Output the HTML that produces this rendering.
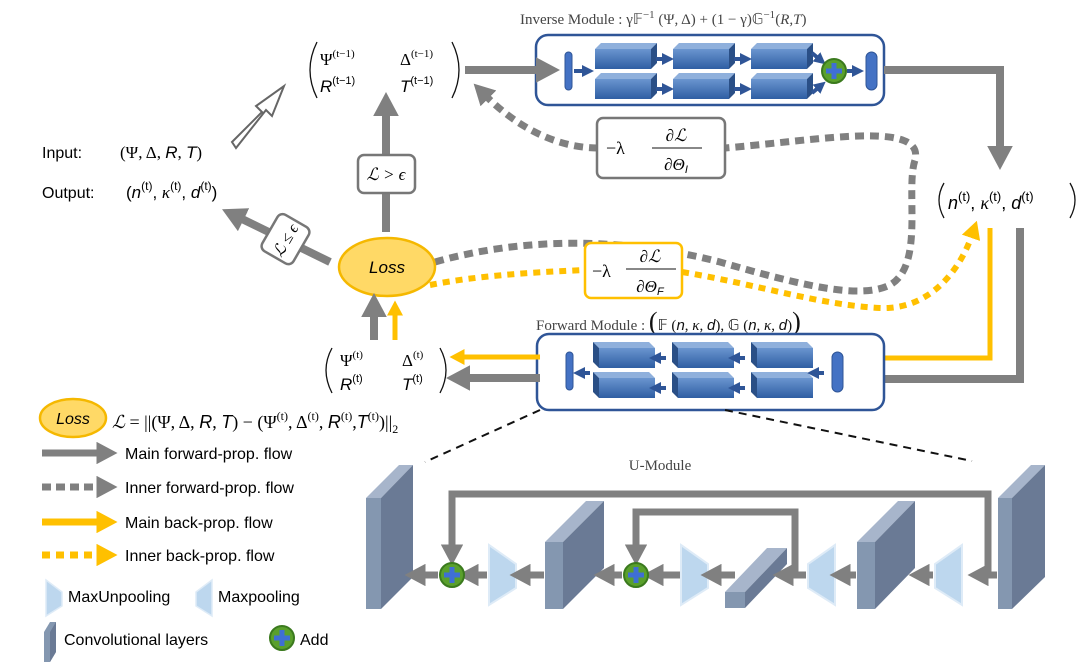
<!DOCTYPE html>
<html><head><meta charset="utf-8"><style>
body{margin:0;background:#fff}
svg{display:block}
text{font-family:"Liberation Sans",sans-serif;}
.s{font-family:"Liberation Serif",serif;}
</style></head><body>
<svg width="1089" height="665" viewBox="0 0 1089 665" xmlns="http://www.w3.org/2000/svg">
<defs>
<marker id="ag" markerWidth="3" markerHeight="3.2" refX="0.5" refY="1.6" orient="auto" markerUnits="strokeWidth"><path d="M0,0 L3,1.6 L0,3.2z" fill="#808080"/></marker>
<marker id="ay" markerWidth="3" markerHeight="3.2" refX="0.5" refY="1.6" orient="auto" markerUnits="strokeWidth"><path d="M0,0 L3,1.6 L0,3.2z" fill="#ffc000"/></marker>
<marker id="ab" markerWidth="3" markerHeight="3" refX="0.5" refY="1.5" orient="auto" markerUnits="strokeWidth"><path d="M0,0 L3,1.5 L0,3z" fill="#2f5597"/></marker>
<linearGradient id="bl" x1="0" y1="0" x2="0" y2="1"><stop offset="0" stop-color="#6a95cf"/><stop offset="1" stop-color="#2e5ea3"/></linearGradient>
<g id="blk"><path d="M0,6 L6,0 L62,0 L56,6z" fill="#8fb0dc"/><path d="M56,6 L62,0 L62,20 L56,26z" fill="#2a4f86"/><rect x="0" y="6" width="56" height="20" fill="url(#bl)"/></g>
<g id="blkL"><path d="M6,6 L0,0 L56,0 L62,6z" fill="#8fb0dc"/><path d="M0,0 L6,6 L6,26 L0,20z" fill="#2a4f86"/><rect x="6" y="6" width="56" height="20" fill="url(#bl)"/></g>
<g id="plus"><circle r="12" fill="#5aa02c" stroke="#3b7a1e" stroke-width="2"/><rect x="-2.5" y="-8" width="5" height="16" fill="#3f6fd4"/><rect x="-8" y="-2.5" width="16" height="5" fill="#3f6fd4"/></g>
</defs>

<!-- Inverse module -->
<text x="520" y="24" class="s" font-size="15" fill="#444">Inverse Module : γ𝔽<tspan dy="-6" font-size="11">−1</tspan><tspan dy="6"> (Ψ, Δ) + (1 − γ)𝔾</tspan><tspan dy="-6" font-size="11">−1</tspan><tspan dy="6">(</tspan><tspan font-style="italic">R,T</tspan>)</text>
<rect x="536" y="35" width="348" height="70" rx="12" fill="#fff" stroke="#2f5597" stroke-width="2.5"/>
<line x1="465" y1="70" x2="540" y2="70" stroke="#808080" stroke-width="8" marker-end="url(#ag)"/>
<rect x="565" y="52" width="7" height="38" rx="3.5" fill="#4472c4" stroke="#2f5597"/>
<line x1="574" y1="71" x2="584" y2="71" stroke="#2f5597" stroke-width="4" marker-end="url(#ab)"/>
<use href="#blk" x="595" y="43"/><use href="#blk" x="595" y="73"/>
<use href="#blk" x="673" y="43"/><use href="#blk" x="673" y="73"/>
<use href="#blk" x="751" y="43"/><use href="#blk" x="751" y="73"/>
<g stroke="#2f5597" stroke-width="4"><line x1="656" y1="59" x2="664" y2="59" marker-end="url(#ab)"/><line x1="656" y1="89" x2="664" y2="89" marker-end="url(#ab)"/><line x1="734" y1="59" x2="742" y2="59" marker-end="url(#ab)"/><line x1="734" y1="89" x2="742" y2="89" marker-end="url(#ab)"/><line x1="812" y1="53" x2="818" y2="58" marker-end="url(#ab)"/><line x1="812" y1="93" x2="818" y2="88" marker-end="url(#ab)"/><line x1="847" y1="71" x2="854" y2="71" marker-end="url(#ab)"/></g>
<use href="#plus" x="834" y="71"/>
<rect x="866" y="52" width="11" height="38" rx="5.5" fill="#4472c4" stroke="#2f5597"/>
<polyline points="884,70 1000,70 1000,150" fill="none" stroke="#808080" stroke-width="8" marker-end="url(#ag)"/>

<!-- top-left matrix -->
<text x="320" y="65" class="s" font-size="17">Ψ<tspan dy="-8" font-size="11">(t−1)</tspan></text>
<text x="400" y="65" class="s" font-size="17">Δ<tspan dy="-8" font-size="11">(t−1)</tspan></text>
<text x="320" y="92" font-size="17" font-style="italic">R<tspan dy="-8" font-size="11" font-style="normal">(t−1)</tspan></text>
<text x="400" y="92" font-size="17" font-style="italic">T<tspan dy="-8" font-size="11" font-style="normal">(t−1)</tspan></text>
<path d="M317,42 Q303,70 317,98" fill="none" stroke="#111" stroke-width="1.3"/>
<path d="M452,42 Q466,70 452,98" fill="none" stroke="#111" stroke-width="1.3"/>

<!-- hollow arrow -->
<path d="M232,142 L262,112 L256,106 L284,86 L272,116 L266,110 L236,148z" fill="#fff" stroke="#666" stroke-width="2"/>

<text x="42" y="158" font-size="16">Input:</text>
<text x="120" y="158" class="s" font-size="17">(Ψ, Δ, <tspan font-family="Liberation Sans" font-style="italic">R</tspan>, <tspan font-family="Liberation Sans" font-style="italic">T</tspan>)</text>
<text x="42" y="198" font-size="16">Output:</text>
<text x="126" y="198" font-size="17">(<tspan font-style="italic">n</tspan><tspan dy="-8" font-size="12">(t)</tspan><tspan dy="8">, </tspan><tspan class="s" font-style="italic">κ</tspan><tspan dy="-8" font-size="12">(t)</tspan><tspan dy="8">, </tspan><tspan font-style="italic">d</tspan><tspan dy="-8" font-size="12">(t)</tspan><tspan dy="8">)</tspan></text>

<!-- Loss -->
<line x1="386" y1="232" x2="386" y2="112" stroke="#808080" stroke-width="8" marker-end="url(#ag)"/>
<rect x="358" y="155" width="57" height="38" rx="6" fill="#fff" stroke="#777" stroke-width="2.5"/>
<text x="386" y="180" text-anchor="middle" class="s" font-size="17" font-style="italic">ℒ &gt; ϵ</text>
<line x1="330" y1="262" x2="240" y2="218" stroke="#808080" stroke-width="8" marker-end="url(#ag)"/>
<g transform="translate(285,240) rotate(-60)"><rect x="-20" y="-18" width="42" height="36" rx="6" fill="#fff" stroke="#777" stroke-width="2.5"/><text x="0" y="6" text-anchor="middle" class="s" font-size="16" font-style="italic">ℒ ≤ ϵ</text></g>

<!-- dashed gray inner forward -->
<path d="M435,262 C520,238 620,236 720,262 C800,285 860,300 890,285 C925,265 905,190 915,160 C925,120 820,140 725,148" fill="none" stroke="#808080" stroke-width="7" stroke-dasharray="9,6"/>
<path d="M598,148 C560,148 520,130 486,96" fill="none" stroke="#808080" stroke-width="7" stroke-dasharray="9,6" marker-end="url(#ag)"/>
<rect x="597" y="118" width="128" height="60" rx="6" fill="#fff" stroke="#777" stroke-width="2.5"/>
<text x="606" y="154" class="s" font-size="18">−λ</text>
<text x="676" y="141" text-anchor="middle" class="s" font-size="17" font-style="italic">∂ℒ</text>
<line x1="652" y1="148" x2="702" y2="148" stroke="#111" stroke-width="1"/>
<text x="676" y="170" text-anchor="middle" class="s" font-size="17" font-style="italic">∂Θ<tspan font-family="Liberation Sans" font-size="11" dy="3">I</tspan></text>

<!-- dotted yellow inner back -->
<path d="M430,285 C480,275 540,272 585,270" fill="none" stroke="#ffc000" stroke-width="6" stroke-dasharray="7,6"/>
<path d="M682,272 C760,285 820,305 880,308 C930,310 960,270 972,235" fill="none" stroke="#ffc000" stroke-width="6" stroke-dasharray="7,6" marker-end="url(#ay)"/>
<rect x="585" y="243" width="97" height="55" rx="6" fill="#fff" stroke="#ffc000" stroke-width="2.5"/>
<text x="592" y="277" class="s" font-size="18">−λ</text>
<text x="650" y="262" text-anchor="middle" class="s" font-size="17" font-style="italic">∂ℒ</text>
<line x1="626" y1="269" x2="676" y2="269" stroke="#111" stroke-width="1"/>
<text x="650" y="292" text-anchor="middle" class="s" font-size="17" font-style="italic">∂Θ<tspan font-family="Liberation Sans" font-size="11" dy="3">F</tspan></text>

<ellipse cx="387" cy="267" rx="48" ry="29" fill="#ffd966" stroke="#f5b800" stroke-width="2.5"/>
<text x="387" y="273" text-anchor="middle" font-size="17" font-style="italic">Loss</text>
<line x1="374" y1="340" x2="374" y2="313" stroke="#808080" stroke-width="8" marker-end="url(#ag)"/>
<line x1="395" y1="340" x2="395" y2="313" stroke="#ffc000" stroke-width="5" marker-end="url(#ay)"/>

<!-- right n k d -->
<path d="M944,183 Q934,200 944,218" fill="none" stroke="#111" stroke-width="1.3"/>
<path d="M1070,183 Q1080,200 1070,218" fill="none" stroke="#111" stroke-width="1.3"/>
<text x="948" y="209" font-size="18"><tspan font-style="italic">n</tspan><tspan dy="-8" font-size="13">(t)</tspan><tspan dy="8">, </tspan><tspan class="s" font-style="italic">κ</tspan><tspan dy="-8" font-size="13">(t)</tspan><tspan dy="8">, </tspan><tspan font-style="italic">d</tspan><tspan dy="-8" font-size="13">(t)</tspan></text>
<polyline points="1020,228 1020,379 862,379" fill="none" stroke="#808080" stroke-width="8" marker-end="url(#ag)"/>
<polyline points="990,228 990,358 857,358" fill="none" stroke="#ffc000" stroke-width="5" marker-end="url(#ay)"/>

<!-- Forward module -->
<text x="536" y="330" class="s" font-size="15" fill="#444">Forward Module : <tspan font-size="26" fill="#111">(</tspan><tspan fill="#111">𝔽 (</tspan><tspan font-family="Liberation Sans" font-style="italic" fill="#111">n</tspan><tspan fill="#111">, </tspan><tspan font-style="italic" fill="#111">κ</tspan><tspan fill="#111">, </tspan><tspan font-family="Liberation Sans" font-style="italic" fill="#111">d</tspan><tspan fill="#111">), 𝔾 (</tspan><tspan font-family="Liberation Sans" font-style="italic" fill="#111">n</tspan><tspan fill="#111">, </tspan><tspan font-style="italic" fill="#111">κ</tspan><tspan fill="#111">, </tspan><tspan font-family="Liberation Sans" font-style="italic" fill="#111">d</tspan><tspan fill="#111">)</tspan><tspan font-size="26" fill="#111">)</tspan></text>
<rect x="537" y="334" width="347" height="76" rx="12" fill="#fff" stroke="#2f5597" stroke-width="2.5"/>
<use href="#blkL" x="593" y="342"/><use href="#blkL" x="593" y="372"/>
<use href="#blkL" x="672" y="342"/><use href="#blkL" x="672" y="372"/>
<use href="#blkL" x="751" y="342"/><use href="#blkL" x="751" y="372"/>
<g stroke="#2f5597" stroke-width="4"><line x1="666" y1="358" x2="659" y2="358" marker-end="url(#ab)"/><line x1="666" y1="388" x2="659" y2="388" marker-end="url(#ab)"/><line x1="745" y1="358" x2="738" y2="358" marker-end="url(#ab)"/><line x1="745" y1="388" x2="738" y2="388" marker-end="url(#ab)"/><line x1="824" y1="373" x2="817" y2="373" marker-end="url(#ab)"/><line x1="590" y1="373" x2="583" y2="373" marker-end="url(#ab)"/></g>
<rect x="566" y="352" width="7" height="38" rx="3.5" fill="#4472c4" stroke="#2f5597"/>
<rect x="832" y="352" width="11" height="40" rx="5.5" fill="#4472c4" stroke="#2f5597"/>
<line x1="540" y1="357" x2="462" y2="357" stroke="#ffc000" stroke-width="5" marker-end="url(#ay)"/>
<line x1="540" y1="378" x2="466" y2="378" stroke="#808080" stroke-width="8" marker-end="url(#ag)"/>

<!-- bottom matrix -->
<path d="M332,348 Q320,370 332,393" fill="none" stroke="#111" stroke-width="1.3"/>
<path d="M440,348 Q452,370 440,393" fill="none" stroke="#111" stroke-width="1.3"/>
<text x="340" y="366" class="s" font-size="17">Ψ<tspan dy="-8" font-size="11">(t)</tspan></text>
<text x="402" y="366" class="s" font-size="17">Δ<tspan dy="-8" font-size="11">(t)</tspan></text>
<text x="340" y="390" font-size="17" font-style="italic">R<tspan dy="-8" font-size="11" font-style="normal">(t)</tspan></text>
<text x="402" y="390" font-size="17" font-style="italic">T<tspan dy="-8" font-size="11" font-style="normal">(t)</tspan></text>

<!-- legend -->
<ellipse cx="73" cy="418" rx="33" ry="19" fill="#ffd966" stroke="#f5b800" stroke-width="2.5"/>
<text x="73" y="424" text-anchor="middle" font-size="16" font-style="italic">Loss</text>
<text x="112" y="428" class="s" font-size="18"><tspan font-style="italic">ℒ</tspan> = ||(Ψ, Δ, <tspan font-family="Liberation Sans" font-style="italic">R</tspan>, <tspan font-family="Liberation Sans" font-style="italic">T</tspan>) − (Ψ<tspan dy="-8" font-size="12">(t)</tspan><tspan dy="8">, Δ</tspan><tspan dy="-8" font-size="12">(t)</tspan><tspan dy="8">, </tspan><tspan font-family="Liberation Sans" font-style="italic">R</tspan><tspan dy="-8" font-size="12">(t)</tspan><tspan dy="8">,</tspan><tspan font-family="Liberation Sans" font-style="italic">T</tspan><tspan dy="-8" font-size="12">(t)</tspan><tspan dy="8">)||</tspan><tspan dy="5" font-size="12">2</tspan></text>
<line x1="42" y1="453" x2="100" y2="453" stroke="#808080" stroke-width="7" marker-end="url(#ag)"/>
<text x="125" y="459" font-size="16">Main forward-prop. flow</text>
<line x1="42" y1="487" x2="100" y2="487" stroke="#808080" stroke-width="7" stroke-dasharray="9,5" marker-end="url(#ag)"/>
<text x="125" y="493" font-size="16">Inner forward-prop. flow</text>
<line x1="42" y1="522" x2="100" y2="522" stroke="#ffc000" stroke-width="7" marker-end="url(#ay)"/>
<text x="125" y="528" font-size="16">Main back-prop. flow</text>
<line x1="42" y1="555" x2="100" y2="555" stroke="#ffc000" stroke-width="7" stroke-dasharray="8,6" marker-end="url(#ay)"/>
<text x="125" y="561" font-size="16">Inner back-prop. flow</text>
<path d="M46,580 L62,592 L62,606 L46,616z" fill="#bdd7ee" stroke="#deebf7" stroke-width="1.5"/>
<text x="68" y="602" font-size="16">MaxUnpooling</text>
<path d="M212,580 L196,592 L196,606 L212,616z" fill="#bdd7ee" stroke="#deebf7" stroke-width="1.5"/>
<text x="218" y="602" font-size="16">Maxpooling</text>
<path d="M44,632 L44,662 L50,662 L56,652 L56,622 L50,622z" fill="#8497b0"/><path d="M50,632 L56,622 L56,652 L50,662z" fill="#6a7a95"/>
<text x="64" y="645" font-size="16">Convolutional layers</text>
<use href="#plus" x="282" y="638"/>
<text x="300" y="645" font-size="16">Add</text>

<!-- U-module -->
<line x1="540" y1="410" x2="425" y2="462" stroke="#111" stroke-width="2" stroke-dasharray="8,6"/>
<line x1="725" y1="410" x2="972" y2="461" stroke="#111" stroke-width="2" stroke-dasharray="8,6"/>
<text x="660" y="470" text-anchor="middle" class="s" font-size="15" fill="#444">U-Module</text>
<g>
<!-- left slab -->
<rect x="366" y="498" width="15" height="111" fill="#8497b0"/><path d="M366,498 L399,465 L413,465 L381,498z" fill="#a7b5cb"/><path d="M381,498 L413,465 L413,577 L381,609z" fill="#6a7a95"/>
<!-- slab2 -->
<rect x="545" y="542" width="18" height="67" fill="#8497b0"/><path d="M545,542 L586,501 L604,501 L563,542z" fill="#a7b5cb"/><path d="M563,542 L604,501 L604,568 L563,609z" fill="#6a7a95"/>
<!-- slab3 -->
<rect x="857" y="542" width="18" height="67" fill="#8497b0"/><path d="M857,542 L898,501 L915,501 L875,542z" fill="#a7b5cb"/><path d="M875,542 L915,501 L915,568 L875,609z" fill="#6a7a95"/>
<!-- right slab -->
<rect x="998" y="498" width="14" height="111" fill="#8497b0"/><path d="M998,498 L1031,465 L1045,465 L1012,498z" fill="#a7b5cb"/><path d="M1012,498 L1045,465 L1045,577 L1012,609z" fill="#6a7a95"/>
<!-- bottleneck -->
<rect x="725" y="592" width="20" height="16" fill="#8497b0"/><path d="M725,592 L767,548 L787,548 L745,592z" fill="#a7b5cb"/><path d="M745,592 L787,548 L787,564 L745,608z" fill="#6a7a95"/>
<!-- trapezoids -->
<path d="M489,545 L516,564 L516,588 L489,605z" fill="#bdd7ee" stroke="#deebf7" stroke-width="2"/>
<path d="M681,545 L708,564 L708,588 L681,605z" fill="#bdd7ee" stroke="#deebf7" stroke-width="2"/>
<path d="M835,545 L808,564 L808,588 L835,605z" fill="#bdd7ee" stroke="#deebf7" stroke-width="2"/>
<path d="M962,545 L935,564 L935,588 L962,605z" fill="#bdd7ee" stroke="#deebf7" stroke-width="2"/>
<!-- arrows -->
<g stroke="#808080" stroke-width="7">
<line x1="997" y1="575" x2="985" y2="575" marker-end="url(#ag)"/>
<line x1="933" y1="575" x2="926" y2="575" marker-end="url(#ag)"/>
<line x1="856" y1="575" x2="847" y2="575" marker-end="url(#ag)"/>
<line x1="806" y1="575" x2="790" y2="575" marker-end="url(#ag)"/>
<line x1="735" y1="575" x2="718" y2="575" marker-end="url(#ag)"/>
<line x1="680" y1="575" x2="660" y2="575" marker-end="url(#ag)"/>
<line x1="622" y1="575" x2="611" y2="575" marker-end="url(#ag)"/>
<line x1="544" y1="575" x2="527" y2="575" marker-end="url(#ag)"/>
<line x1="487" y1="575" x2="475" y2="575" marker-end="url(#ag)"/>
<line x1="438" y1="575" x2="422" y2="575" marker-end="url(#ag)"/>
<polyline points="994,575 988,575 988,494 452,494 452,548" fill="none" marker-end="url(#ag)"/>
<polyline points="795,575 795,512 636,512 636,548" fill="none" marker-end="url(#ag)"/>
</g>
<use href="#plus" x="452" y="575"/>
<use href="#plus" x="636" y="575"/>
</g>
</svg>
</body></html>
